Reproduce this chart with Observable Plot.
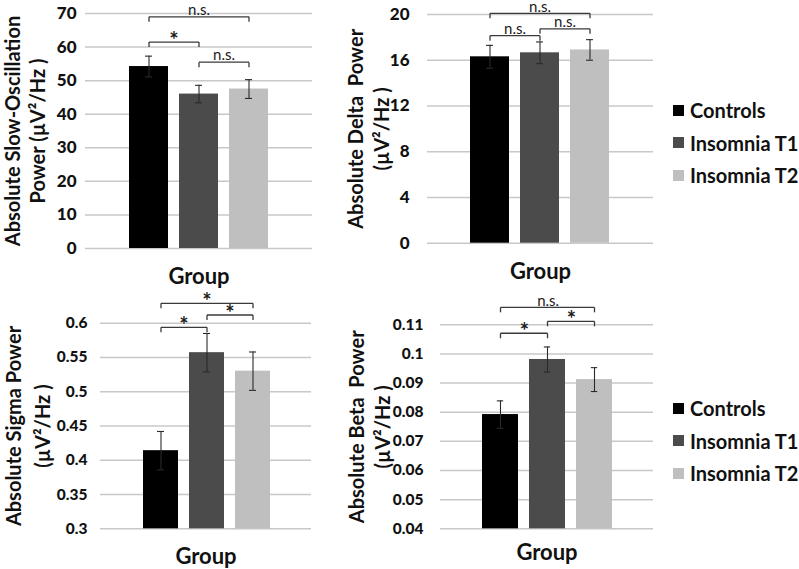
<!DOCTYPE html>
<html>
<head>
<meta charset="utf-8">
<script src="https://cdn.jsdelivr.net/npm/d3@7"></script>
<script src="https://cdn.jsdelivr.net/npm/@observablehq/plot@0.6"></script>
<style>
  body { margin: 0; background: #fff; }
  #root { position: relative; width: 799px; height: 569px; overflow: hidden; background: #fff; font-family: Lato, "Open Sans", sans-serif; }
  .panel { position: absolute; }
  .legend { position: absolute; font-family: Lato, sans-serif; font-weight: bold; font-size: 20px; color: #111; }
  .legend .row { position: absolute; left: 0; white-space: nowrap; display: flex; align-items: center; height: 20px; }
  .legend .sw { width: 11px; height: 11px; margin-right: 6px; }
</style>
</head>
<body>
<div id="root"></div>
<script>
// ---- data ----
const groups = ["Controls", "Insomnia T1", "Insomnia T2"];
const colors = ["#000000", "#4b4b4b", "#bfbfbf"];

// Absolute slow-oscillation power
const soMean = [54.2, 46.0, 47.5];
const soErr  = [3.1, 2.6, 2.8];
const soTicks = [0, 10, 20, 30, 40, 50, 60, 70];
const soSig = [
  {from: "Controls", to: "Insomnia T2", level: 69, label: "n.s."},
  {from: "Controls", to: "Insomnia T1", level: 61.5, label: "*"},
  {from: "Insomnia T1", to: "Insomnia T2", level: 55.5, label: "n.s."}
];

// Absolute delta power
const deltaMean = [16.3, 16.65, 16.9];
const deltaErr  = [1.0, 0.95, 0.9];
const deltaTicks = [0, 4, 8, 12, 16, 20];
const deltaSig = [
  {from: "Controls", to: "Insomnia T2", level: 20.1, label: "n.s."},
  {from: "Controls", to: "Insomnia T1", level: 18.15, label: "n.s."},
  {from: "Insomnia T1", to: "Insomnia T2", level: 18.75, label: "n.s."}
];

// Absolute sigma power
const sigmaMean = [0.414, 0.557, 0.530];
const sigmaErr  = [0.028, 0.028, 0.028];
const sigmaTicks = [0.3, 0.35, 0.4, 0.45, 0.5, 0.55, 0.6];
const sigmaSig = [
  {from: "Controls", to: "Insomnia T2", level: 0.629, label: "*"},
  {from: "Controls", to: "Insomnia T1", level: 0.594, label: "*"},
  {from: "Insomnia T1", to: "Insomnia T2", level: 0.612, label: "*"}
];

// Absolute beta power
const betaMean = [0.0792, 0.0981, 0.0912];
const betaErr  = [0.0047, 0.0043, 0.0041];
const betaTicks = [0.04, 0.05, 0.06, 0.07, 0.08, 0.09, 0.1, 0.11];
const betaSig = [
  {from: "Controls", to: "Insomnia T2", level: 0.116, label: "n.s."},
  {from: "Controls", to: "Insomnia T1", level: 0.1071, label: "*"},
  {from: "Insomnia T1", to: "Insomnia T2", level: 0.1112, label: "*"}
];

// ---- layout ----
const panels = [
  {mean: soMean, err: soErr, ticks: soTicks, sig: soSig, domain: [0, 70],
   yLabel: "Absolute Slow-Oscillation\nPower (µV²/Hz )",
   left: 0, top: 0, width: 320, height: 285, mL: 85, mR: 8, mT: 13, mB: 37,
   xr: [129, 268], pad: 0.22, tickPad: 9, tickFont: 17, labDx: -61.5, labLH: 1.25, groupDy: 28.5},
  {mean: deltaMean, err: deltaErr, ticks: deltaTicks, sig: deltaSig, domain: [0, 20],
   yLabel: "Absolute Delta  Power\n(µV²/Hz )",
   left: 330, top: 0, width: 330, height: 285, mL: 97, mR: 7, mT: 14, mB: 42.3,
   xr: [140, 279], pad: 0.22, tickPad: 18, tickFont: 17, labDx: -60, labLH: 1.3, groupDy: 29},
  {mean: sigmaMean, err: sigmaErr, ticks: sigmaTicks, sig: sigmaSig, domain: [0.3, 0.6],
   yLabel: "Absolute Sigma Power\n(µV²/Hz )",
   left: 0, top: 285, width: 320, height: 284, mL: 100, mR: 9, mT: 37.7, mB: 40.7,
   xr: [143, 270], pad: 0.24, tickPad: 13, tickFont: 15.5, labDx: -74.5, labLH: 1.45, groupDy: 27.7},
  {mean: betaMean, err: betaErr, ticks: betaTicks, sig: betaSig, domain: [0.04, 0.11],
   yLabel: "Absolute Beta  Power\n(µV²/Hz )",
   left: 330, top: 285, width: 330, height: 284, mL: 110, mR: 7, mT: 39.3, mB: 40.7,
   xr: [150.7, 282.7], pad: 0.23, tickPad: 17, tickFont: 15.5, labDx: -72, labLH: 1.3, groupDy: 24}
];

const tickDown = {draw(ctx) { ctx.moveTo(0, 0); ctx.lineTo(0, 5); }};
const root = document.getElementById("root");

for (const p of panels) {
  const data = groups.map((g, i) => ({group: g, mean: p.mean[i], lo: p.mean[i] - p.err[i], hi: p.mean[i] + p.err[i]}));
  const step = (p.xr[1] - p.xr[0]) / (3 - p.pad);
  const bw = step * (1 - p.pad);
  const capInset = (bw - 7) / 2;
  const ends = p.sig.flatMap(b => [{x: b.from, level: b.level}, {x: b.to, level: b.level}]);

  const marks = [
    Plot.ruleY(p.ticks, {stroke: "#c8c8c8", strokeWidth: 1.5}),
    // y tick labels (through the y scale)
    Plot.text(p.ticks, {y: d => d, text: d => String(d), frameAnchor: "left", textAnchor: "end",
      dx: -p.tickPad, fontSize: p.tickFont, fontWeight: 900, fill: "#111", lineAnchor: "middle"}),
    Plot.barY(data, {x: "group", y1: p.domain[0], y2: "mean", fill: "group"}),
    Plot.ruleX(data, {x: "group", y1: "lo", y2: "hi", stroke: "#2a2a2a", strokeWidth: 1.1}),
    Plot.tickY(data, {x: "group", y: "hi", stroke: "#2a2a2a", strokeWidth: 1.1, insetLeft: capInset, insetRight: capInset}),
    Plot.tickY(data, {x: "group", y: "lo", stroke: "#2a2a2a", strokeWidth: 1.1, insetLeft: capInset, insetRight: capInset}),
    Plot.link(p.sig, {x1: "from", x2: "to", y1: "level", y2: "level", stroke: "#3a3a3a", strokeWidth: 1.3}),
    Plot.dot(ends, {x: "x", y: "level", symbol: tickDown, fill: "none", stroke: "#3a3a3a", strokeWidth: 1.3}),
    ...p.sig.map(b => {
      const span = groups.indexOf(b.to) - groups.indexOf(b.from);
      const star = b.label === "*";
      return Plot.text([b], {
        x: "from", y: "level", text: "label",
        dx: step * span / 2, dy: star ? -1 : -6.5,
        fontSize: star ? 22 : 15, fontWeight: star ? "bold" : "normal",
        fill: "#1a1a1a", lineAnchor: "middle"
      });
    }),
    Plot.text([p.yLabel], {text: d => d, frameAnchor: "left", textAnchor: "middle", rotate: -90, dx: p.labDx,
      lineAnchor: "middle", lineHeight: p.labLH, fontSize: 20, fontWeight: "bold", fill: "#111"}),
    Plot.text(["Group"], {text: d => d, frameAnchor: "bottom", textAnchor: "middle", dy: p.groupDy,
      lineAnchor: "middle", fontSize: 22, fontWeight: "bold", fill: "#111"})
  ];

  const chart = Plot.plot({
    width: p.width, height: p.height,
    marginLeft: p.mL, marginRight: p.mR, marginTop: p.mT, marginBottom: p.mB,
    style: {fontFamily: "Lato, sans-serif", fontSize: p.tickFont + "px", color: "#111", background: "transparent", overflow: "visible"},
    x: {domain: groups, range: p.xr, paddingInner: p.pad, paddingOuter: 0, axis: null},
    y: {domain: p.domain, axis: null},
    color: {domain: groups, range: colors},
    marks
  });
  const div = document.createElement("div");
  div.className = "panel";
  div.style.left = p.left + "px";
  div.style.top = p.top + "px";
  div.appendChild(chart);
  root.appendChild(div);
}

// legends
const legendTops = [100, 398];
const legendStep = 32.5;
for (const t of legendTops) {
  const lg = document.createElement("div");
  lg.className = "legend";
  lg.style.left = "673px";
  lg.style.top = t + "px";
  groups.forEach((g, i) => {
    const row = document.createElement("div");
    row.className = "row";
    row.style.top = (i * legendStep) + "px";
    const sw = document.createElement("span");
    sw.className = "sw";
    sw.style.background = colors[i];
    const tx = document.createElement("span");
    tx.textContent = g;
    row.appendChild(sw);
    row.appendChild(tx);
    lg.appendChild(row);
  });
  root.appendChild(lg);
}
</script>
</body>
</html>
